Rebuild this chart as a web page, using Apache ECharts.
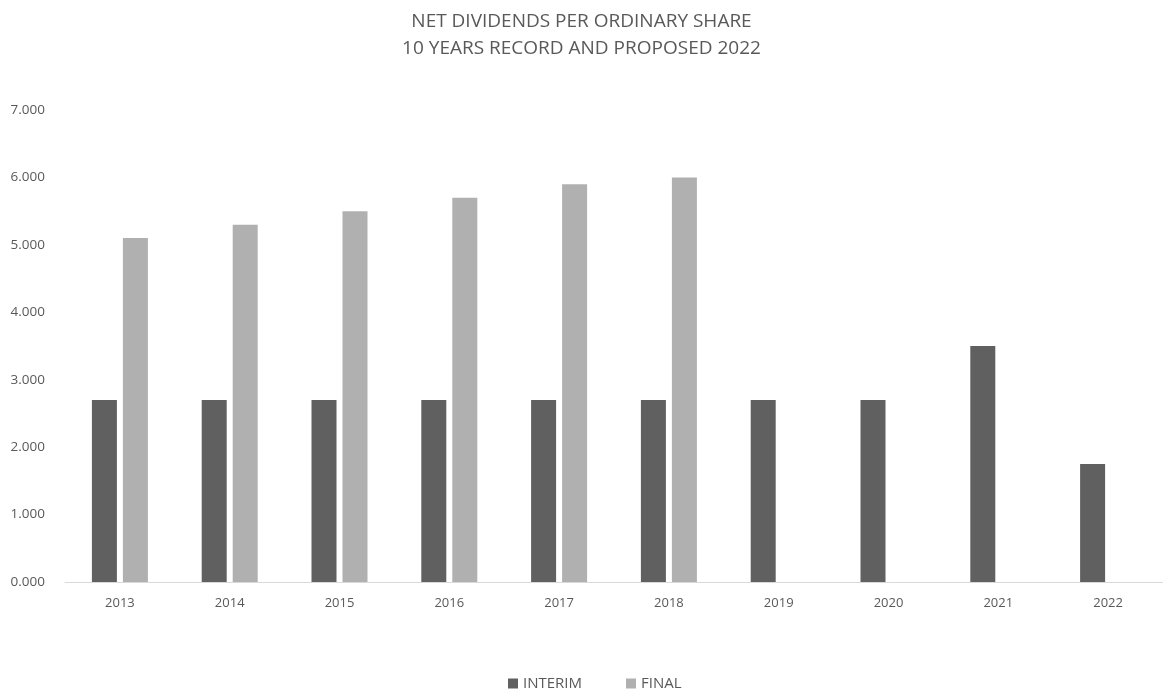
<!DOCTYPE html>
<html>
<head>
<meta charset="utf-8">
<script src="https://cdn.jsdelivr.net/npm/echarts@6/dist/echarts.min.js"></script>
<style>
html,body{margin:0;padding:0;background:#fff;}
#main{width:1163px;height:695px;}
</style>
</head>
<body>
<div id="main"></div>
<script>
var years = ['2013','2014','2015','2016','2017','2018','2019','2020','2021','2022'];
var interim = [2.7, 2.7, 2.7, 2.7, 2.7, 2.7, 2.7, 2.7, 3.5, 1.75];
var finalDiv = [5.1, 5.3, 5.5, 5.7, 5.9, 6.0, null, null, null, null];

var chart = echarts.init(document.getElementById('main'));
var txt = '#595959';
var fam = '"Open Sans", "Noto Sans", sans-serif';

chart.setOption({
	title: {
		text: 'NET DIVIDENDS PER ORDINARY SHARE\n10 YEARS RECORD AND PROPOSED 2022',
		left: 'center',
		top: 3,
		textStyle: { color: txt, fontSize: 19, fontWeight: 'normal', fontFamily: fam, lineHeight: 27 }
	},
	legend: {
		bottom: -1,
		left: 503,
		itemWidth: 10,
		itemHeight: 10,
		itemGap: 44,
		icon: 'rect',
		textStyle: { color: txt, fontSize: 15, fontFamily: fam }
	},
	grid: { left: 65, right: 0, top: 110, bottom: 113 },
	xAxis: {
		type: 'category',
		data: years,
		axisLine: { lineStyle: { color: '#d9d9d9' } },
		axisTick: { show: false },
		axisLabel: { color: txt, fontSize: 13, fontFamily: fam, margin: 15 }
	},
	yAxis: {
		type: 'value',
		min: 0,
		max: 7,
		interval: 1,
		splitLine: { show: false },
		axisLabel: {
			color: txt, fontSize: 13.5, fontFamily: fam, margin: 20,
			formatter: function (v) { return v.toFixed(3); }
		}
	},
	series: [
		{ name: 'INTERIM', type: 'bar', data: interim, barWidth: 25, barGap: '24%',
		  itemStyle: { color: '#606060' } },
		{ name: 'FINAL', type: 'bar', data: finalDiv, barWidth: 25,
		  itemStyle: { color: '#b0b0b0' } }
	]
});
</script>
</body>
</html>
